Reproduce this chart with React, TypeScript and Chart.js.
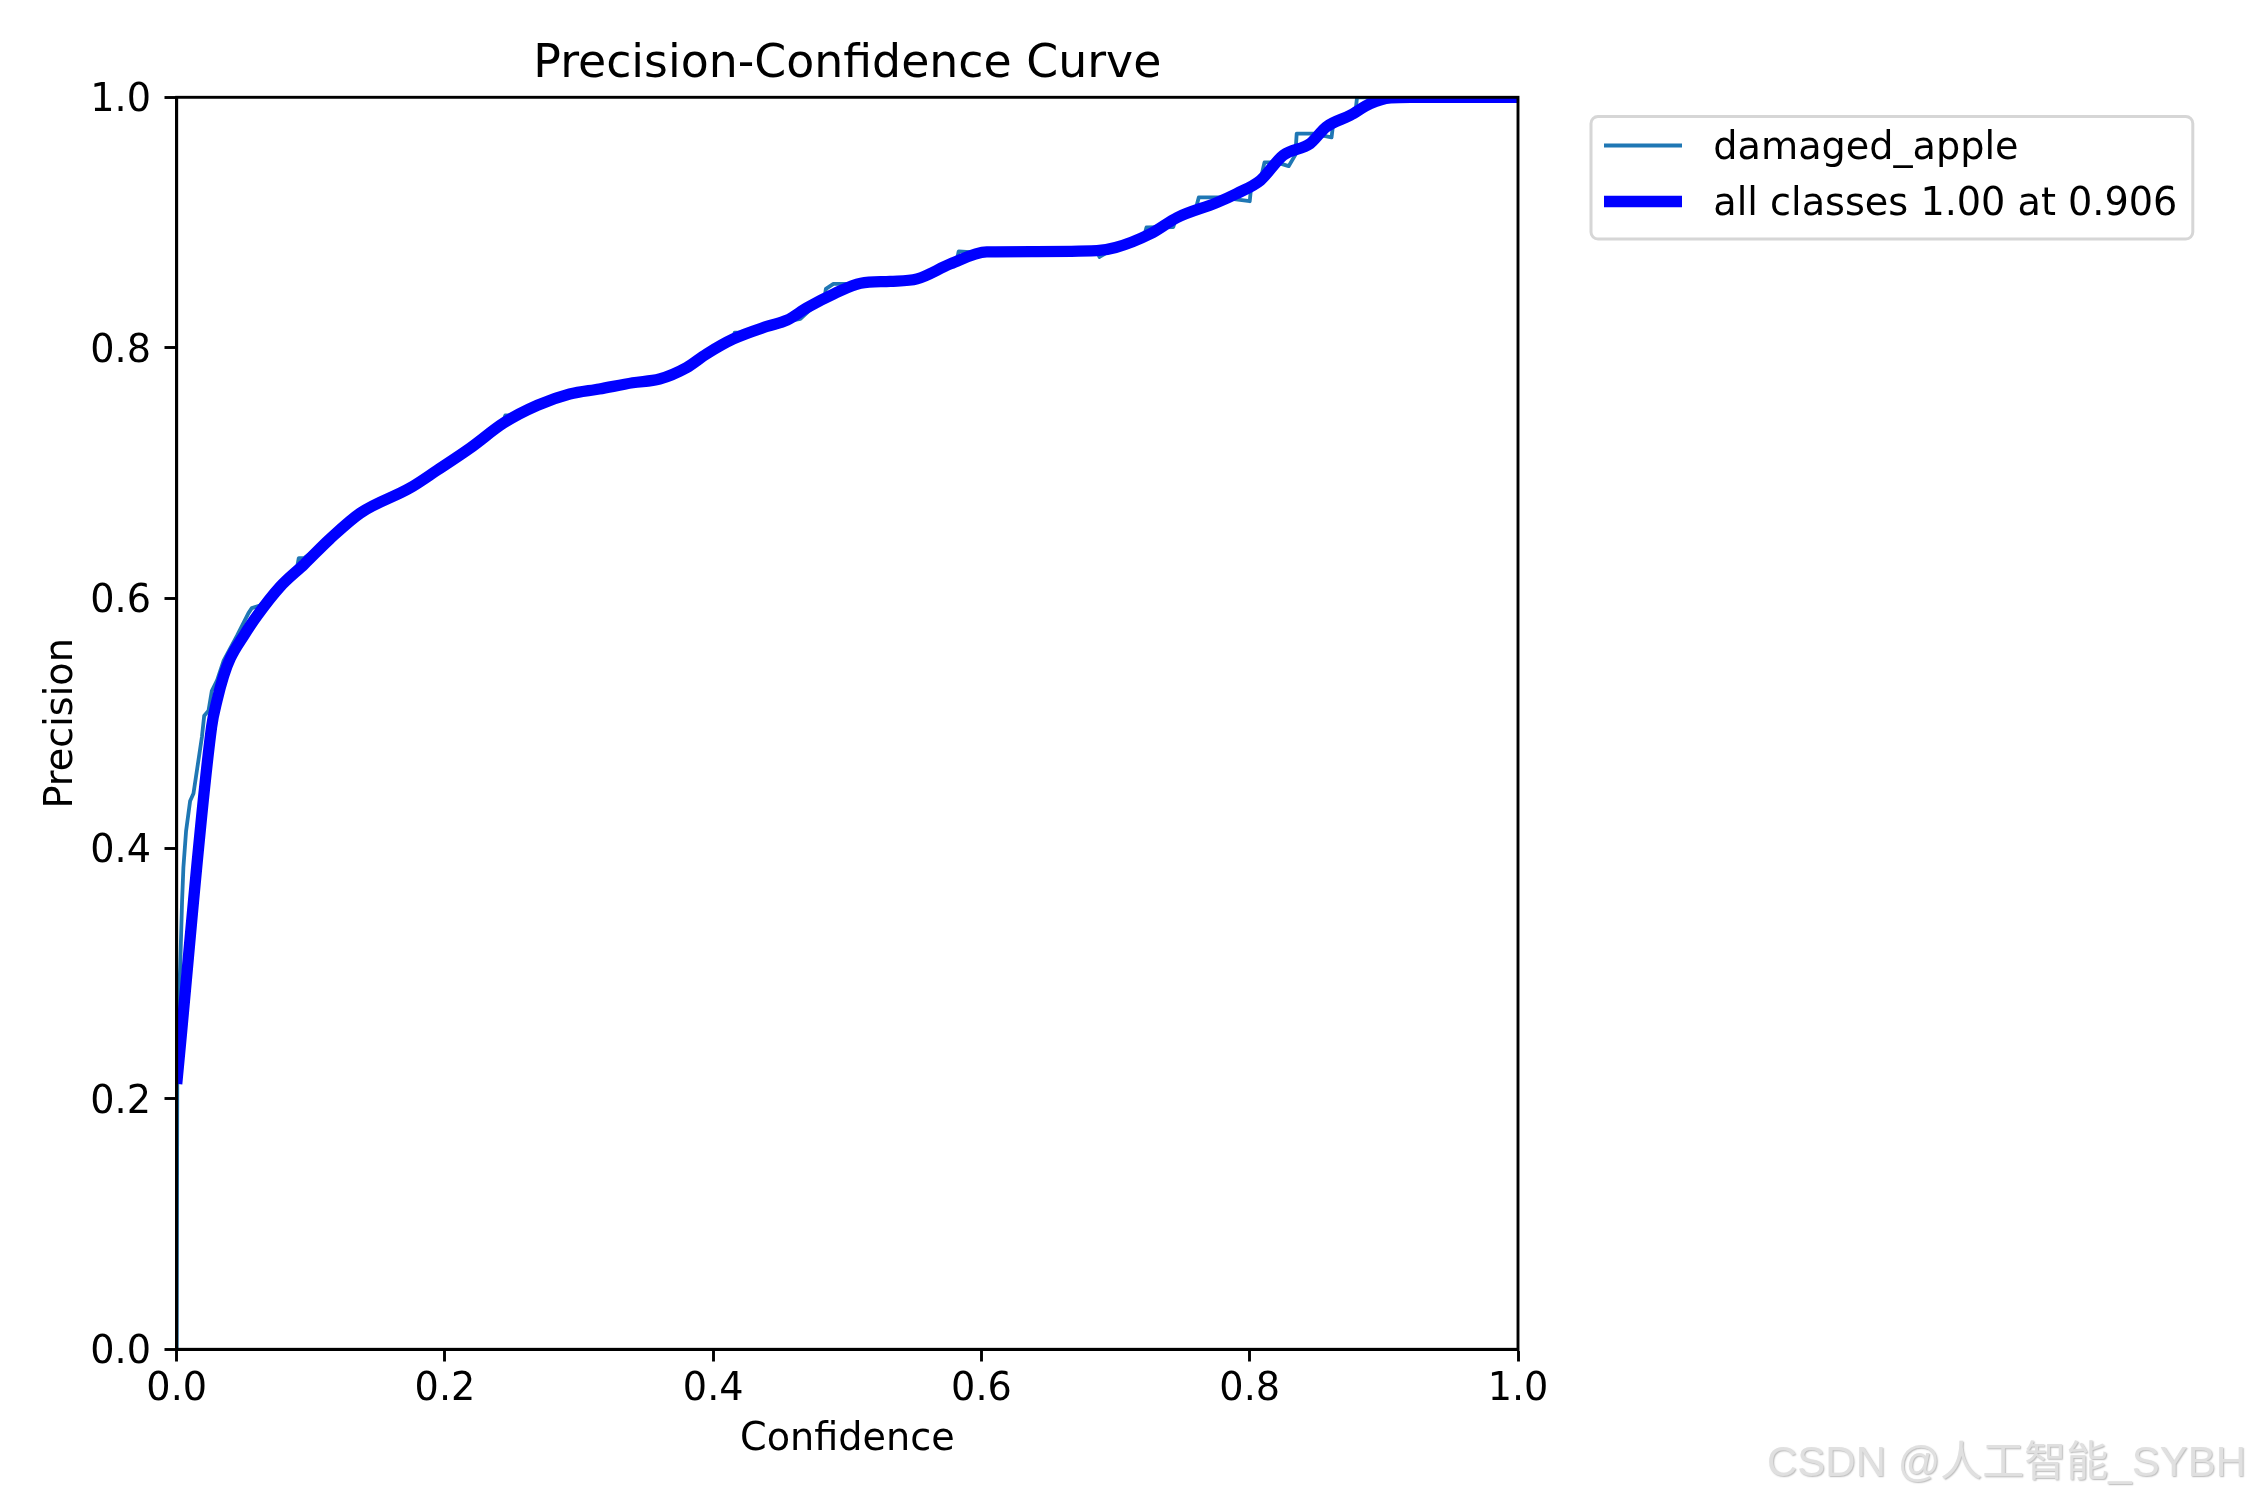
import React, { useEffect, useRef } from "react";
import { Chart, registerables } from "chart.js";

Chart.register(...registerables);

// ---- data ----
const titleText = "Precision-Confidence Curve";
const xAxisTitle = "Confidence";
const yAxisTitle = "Precision";
const seriesLabels = ["damaged_apple", "all classes 1.00 at 0.906"];
const seriesColors = ["#1f77b4", "#0000ff"];
const xTickValues = [0, 0.2, 0.4, 0.6, 0.8, 1.0];
const xTickLabels = ["0.0", "0.2", "0.4", "0.6", "0.8", "1.0"];
const yTickValues = [0, 0.2, 0.4, 0.6, 0.8, 1.0];
const yTickLabels = ["0.0", "0.2", "0.4", "0.6", "0.8", "1.0"];
const watermarkText = "CSDN @人工智能_SYBH";

const allConf = [0, 0.026, 0.030, 0.035, 0.040, 0.050, 0.060, 0.077, 0.095, 0.114, 0.137, 0.174, 0.194, 0.219, 0.244, 0.269, 0.293, 0.315, 0.340, 0.360, 0.380, 0.395, 0.415, 0.440, 0.455, 0.470, 0.490, 0.510, 0.532, 0.552, 0.577, 0.604, 0.639, 0.686, 0.700, 0.726, 0.746, 0.775, 0.790, 0.808, 0.825, 0.845, 0.857, 0.875, 0.890, 0.905, 0.920, 1.0];
const allPrec = [0.212, 0.497, 0.518, 0.538, 0.552, 0.570, 0.586, 0.609, 0.627, 0.647, 0.668, 0.688, 0.702, 0.720, 0.740, 0.754, 0.763, 0.767, 0.772, 0.775, 0.784, 0.795, 0.807, 0.817, 0.822, 0.832, 0.843, 0.8515, 0.853, 0.855, 0.867, 0.8765, 0.8768, 0.8775, 0.880, 0.891, 0.904, 0.9157, 0.923, 0.9337, 0.9537, 0.963, 0.9763, 0.9856, 0.995, 0.9995, 1.0, 1.0];

const appleConf = [0, 0.0005, 0.0026, 0.004, 0.005, 0.007, 0.010, 0.0125, 0.0188, 0.0205, 0.0237, 0.0262, 0.030, 0.035, 0.045, 0.0535, 0.056, 0.062, 0.077, 0.090, 0.091, 0.095, 0.114, 0.137, 0.174, 0.194, 0.219, 0.243, 0.245, 0.250, 0.269, 0.293, 0.340, 0.360, 0.380, 0.395, 0.414, 0.416, 0.420, 0.440, 0.455, 0.465, 0.470, 0.483, 0.484, 0.4896, 0.510, 0.532, 0.552, 0.577, 0.581, 0.583, 0.597, 0.639, 0.686, 0.688, 0.700, 0.721, 0.723, 0.743, 0.745, 0.760, 0.762, 0.778, 0.800, 0.801, 0.808, 0.811, 0.820, 0.829, 0.834, 0.835, 0.847, 0.861, 0.862, 0.870, 0.879, 0.880, 1.0];
const applePrec = [0.0, 0.25, 0.305, 0.358, 0.385, 0.414, 0.438, 0.444, 0.489, 0.506, 0.510, 0.526, 0.534, 0.550, 0.570, 0.588, 0.592, 0.594, 0.609, 0.626, 0.632, 0.632, 0.647, 0.668, 0.688, 0.702, 0.720, 0.740, 0.746, 0.746, 0.754, 0.763, 0.772, 0.775, 0.784, 0.795, 0.806, 0.812, 0.812, 0.817, 0.821, 0.823, 0.828, 0.840, 0.847, 0.851, 0.851, 0.853, 0.855, 0.866, 0.867, 0.877, 0.876, 0.8766, 0.8772, 0.8725, 0.880, 0.888, 0.896, 0.8964, 0.903, 0.912, 0.920, 0.920, 0.917, 0.928, 0.934, 0.948, 0.948, 0.945, 0.954, 0.971, 0.971, 0.968, 0.977, 0.985, 0.990, 1.0, 1.0];

// ---- layout constants (pixels) ----
const W = 2250;
const H = 1500;
const AX_LEFT = 176.7;
const AX_TOP = 97.3;
const AX_RIGHT = 1518;
const AX_BOTTOM = 1349.3;
const FONT = "'DejaVu Sans', 'Noto Sans', sans-serif";
const FS = 38.2;

const decoPlugin = {
  id: "deco",
  afterDatasetsDraw(chart: any) {
    const { ctx, chartArea: a } = chart;
    ctx.save();
    ctx.strokeStyle = "#000";
    ctx.lineWidth = 2.9;
    ctx.strokeRect(a.left, a.top, a.right - a.left, a.bottom - a.top);
    ctx.restore();
  },
  afterDraw(chart: any) {
    const { ctx, chartArea: a } = chart;
    ctx.save();
    ctx.fillStyle = "#000";
    ctx.font = `45.8px ${FONT}`;
    ctx.textAlign = "center";
    ctx.textBaseline = "alphabetic";
    ctx.fillText(titleText, (a.left + a.right) / 2, 76.5);
    ctx.font = `${FS}px ${FONT}`;
    ctx.fillText(xAxisTitle, (a.left + a.right) / 2, 1450);
    ctx.save();
    ctx.translate(71.5, (a.top + a.bottom) / 2);
    ctx.rotate(-Math.PI / 2);
    ctx.textAlign = "center";
    ctx.fillText(yAxisTitle, 0, 0);
    ctx.restore();

    // legend
    const lx = 1591, ly = 116.4, lw = 2192.8 - 1591, lh = 239 - 116.4;
    ctx.beginPath();
    ctx.roundRect(lx, ly, lw, lh, 7);
    ctx.fillStyle = "rgba(255,255,255,0.8)";
    ctx.fill();
    ctx.strokeStyle = "#d6d6d6";
    ctx.lineWidth = 3;
    ctx.stroke();
    const rows = [145.5, 201.5];
    const widths = [3.8, 11.3];
    chart.data.datasets.forEach((ds: any, i: number) => {
      const y = rows[i];
      ctx.beginPath();
      ctx.strokeStyle = ds.borderColor;
      ctx.lineWidth = widths[i];
      ctx.lineCap = "butt";
      ctx.moveTo(1604, y);
      ctx.lineTo(1682, y);
      ctx.stroke();
      ctx.fillStyle = "#000";
      ctx.font = `${FS}px ${FONT}`;
      ctx.textAlign = "left";
      ctx.textBaseline = "alphabetic";
      ctx.fillText(ds.label, 1713.3, y + 13.5);
    });

    // watermark
    ctx.font = `42px 'Liberation Sans', Arial, 'Noto Sans CJK SC', sans-serif`;
    ctx.textAlign = "right";
    ctx.textBaseline = "alphabetic";
    ctx.shadowColor = "rgba(0,0,0,0.28)";
    ctx.shadowOffsetX = 1;
    ctx.shadowOffsetY = 1;
    ctx.shadowBlur = 1.5;
    ctx.fillStyle = "#e0e0e0";
    ctx.fillText(watermarkText, 2246, 1476);
    ctx.restore();
  },
};

export default function App() {
  const canvasRef = useRef<HTMLCanvasElement | null>(null);

  useEffect(() => {
    const canvas = canvasRef.current;
    if (!canvas) return;
    const appleData = appleConf.map((x, i) => ({ x, y: applePrec[i] }));
    const allData = allConf.map((x, i) => ({ x, y: allPrec[i] }));

    const chart = new Chart(canvas, {
      type: "line",
      data: {
        datasets: [
          {
            label: seriesLabels[0],
            data: appleData,
            borderColor: seriesColors[0],
            backgroundColor: seriesColors[0],
            borderWidth: 3.8,
            pointRadius: 0,
            tension: 0,
            borderJoinStyle: "round",
            clip: 0,
            order: 1,
          },
          {
            label: seriesLabels[1],
            data: allData,
            borderColor: seriesColors[1],
            backgroundColor: seriesColors[1],
            borderWidth: 11.3,
            pointRadius: 0,
            cubicInterpolationMode: "monotone",
            borderJoinStyle: "round",
            borderCapStyle: "butt",
            clip: 0,
            order: 0,
          },
        ],
      },
      options: {
        responsive: false,
        devicePixelRatio: 1,
        animation: false,
        events: [],
        layout: {
          padding: { left: 0, top: AX_TOP, right: W - AX_RIGHT, bottom: 0 },
        },
        plugins: {
          legend: { display: false },
          title: { display: false },
          tooltip: { enabled: false },
        },
        scales: {
          x: {
            type: "linear",
            min: 0,
            max: 1,
            afterFit: (s: any) => {
              s.height = H - AX_BOTTOM;
            },
            afterBuildTicks: (s: any) => {
              s.ticks = xTickValues.map((v) => ({ value: v }));
            },
            ticks: {
              autoSkip: false,
              maxRotation: 0,
              padding: 5.7,
              color: "#000",
              font: { family: FONT, size: FS },
              callback: (_v: any, i: number) => xTickLabels[i],
            },
            grid: {
              display: true,
              drawOnChartArea: false,
              drawTicks: true,
              tickLength: 12.2,
              tickWidth: 2.9,
              tickColor: "#000",
            },
            border: { display: true, color: "#000", width: 2.9 },
          },
          y: {
            type: "linear",
            min: 0,
            max: 1,
            afterFit: (s: any) => {
              s.width = AX_LEFT;
            },
            afterBuildTicks: (s: any) => {
              s.ticks = yTickValues.map((v) => ({ value: v }));
            },
            ticks: {
              autoSkip: false,
              padding: 13.5,
              labelOffset: 4,
              color: "#000",
              font: { family: FONT, size: FS },
              callback: (_v: any, i: number) => yTickLabels[i],
            },
            grid: {
              display: true,
              drawOnChartArea: false,
              drawTicks: true,
              tickLength: 12.2,
              tickWidth: 2.9,
              tickColor: "#000",
            },
            border: { display: true, color: "#000", width: 2.9 },
          },
        },
      },
      plugins: [decoPlugin],
    } as any);

    return () => {
      chart.destroy();
    };
  }, []);

  return (
    <div style={{ position: "absolute", left: 0, top: 0, width: W, height: H, background: "#fff" }}>
      <canvas ref={canvasRef} width={W} height={H} style={{ display: "block", width: W, height: H }} />
    </div>
  );
}
